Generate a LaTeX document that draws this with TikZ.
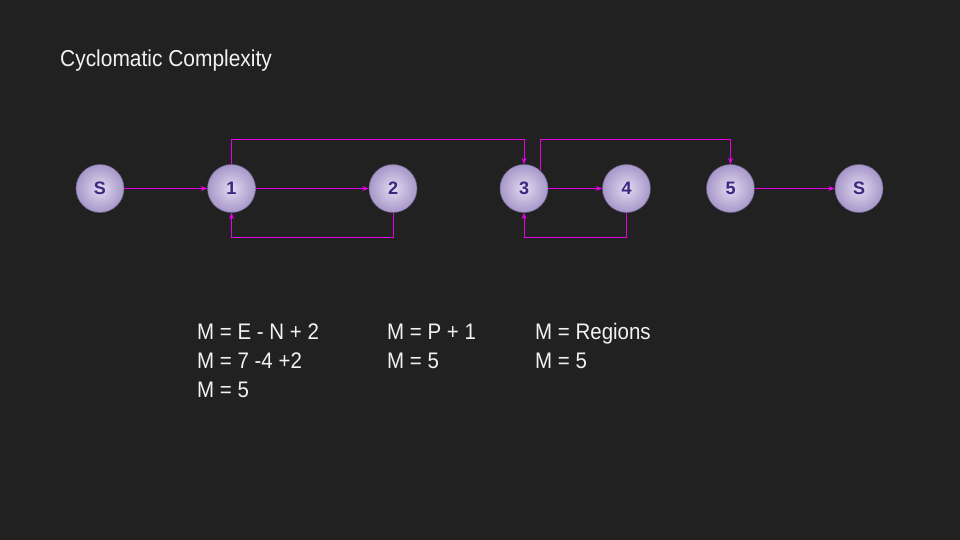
\documentclass[tikz,border=0pt]{standalone}
\usepackage{fontspec}
\setmainfont[FakeStretch=0.91]{Liberation Sans}
\newfontfamily\nodefont{Liberation Sans}
\usetikzlibrary{arrows.meta}
\definecolor{bg}{HTML}{212121}
\definecolor{edgecol}{HTML}{E600E6}
\definecolor{nodein}{HTML}{E2DAF0}
\definecolor{nodeout}{HTML}{A797C9}
\definecolor{nodeborder}{HTML}{6E6490}
\definecolor{nodetext}{HTML}{3A2780}
\definecolor{txt}{HTML}{F2F2F2}
\begin{document}
\begin{tikzpicture}[x=1pt,y=-1pt,
  vertex/.style={circle, minimum size=48pt, inner sep=0pt, inner color=nodein, outer color=nodeout,
    draw=nodeborder, line width=0.5pt, text=nodetext, font=\nodefont\bfseries\fontsize{18}{18}\selectfont},
  flow/.style={draw=edgecol, line width=0.9pt, -{Stealth[length=6.5pt,width=5pt]}},
  label/.style={anchor=base west, inner sep=0pt, text=txt, font=\fontsize{22.5}{22.5}\selectfont},
  title/.style={anchor=base west, inner sep=0pt, text=txt, font=\fontsize{23}{23}\selectfont}]
\fill[bg] (0,0) rectangle (960,540);
\useasboundingbox (0,0) rectangle (960,540);

\node[vertex] (s1) at (100,188.5) {S};
\node[vertex] (n1) at (231.5,188.5) {1};
\node[vertex] (n2) at (393,188.5) {2};
\node[vertex] (n3) at (524,188.5) {3};
\node[vertex] (n4) at (626.5,188.5) {4};
\node[vertex] (n5) at (730.5,188.5) {5};
\node[vertex] (s2) at (859,188.5) {S};

\coordinate (top) at (0,139);
\coordinate (bot) at (0,237);

\draw[flow] (s1) -- (n1);
\draw[flow] (n1) -- (n2);
\draw[flow] (n3) -- (n4);
\draw[flow] (n5) -- (s2);
\draw[flow] (n1.north) -- (n1.north |- top) -| (n3.north);
\draw[flow] (n2.south) -- (n2.south |- bot) -| (n1.south);
\draw[flow] (n3.48) -- (n3.48 |- top) -| (n5.north);
\draw[flow] (n4.south) -- (n4.south |- bot) -| (n3.south);

\node[title] (t) at (60,67) {Cyclomatic Complexity};

\node[label] (a1) at (197,339) {M = E - N + 2};
\node[label] (a2) at (197,368) {M = 7 -4 +2};
\node[label] (a3) at (197,397) {M = 5};
\node[label] (b1) at (387,339) {M = P + 1};
\node[label] (b2) at (387,368) {M = 5};
\node[label] (c1) at (535,339) {M = Regions};
\node[label] (c2) at (535,368) {M = 5};
\end{tikzpicture}
\end{document}
